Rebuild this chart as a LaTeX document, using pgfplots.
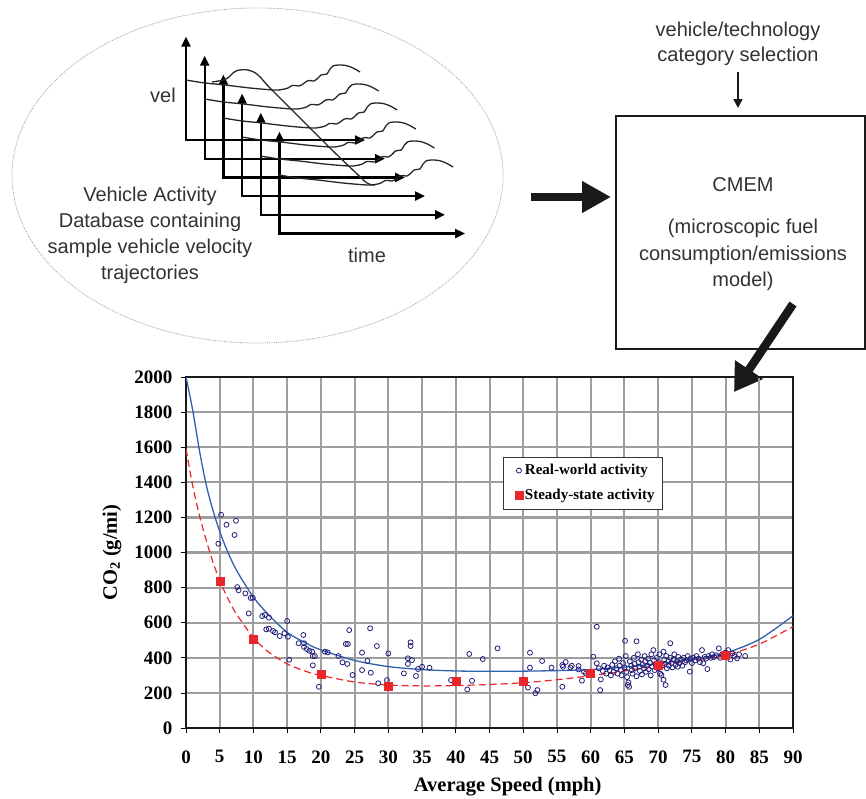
\documentclass[border=0pt]{standalone}
\usepackage{fontspec}
\setmainfont{Liberation Serif}
\newfontfamily\diagfont{Liberation Sans}
\usepackage{pgfplots}
\pgfplotsset{compat=1.18}
\usetikzlibrary{arrows.meta}

\definecolor{navy}{RGB}{35,31,122}
\definecolor{fitblue}{RGB}{48,96,176}
\definecolor{ssred}{RGB}{232,38,43}
\definecolor{gridgray}{RGB}{158,158,158}
\definecolor{diaggray}{RGB}{50,50,50}

% legend image: the mark only, with some room on its left
\pgfplotsset{marklegend/.style={legend image code/.code={%
  \draw[mark repeat=2,mark phase=2,##1] plot coordinates {(-9.7pt,0pt) (0pt,0pt) (3.3pt,0pt)};
  \pgfpathrectangle{\pgfpoint{-9.7pt}{-4pt}}{\pgfpoint{13pt}{8pt}}\pgfusepath{discard}}}}

\begin{document}
\begin{tikzpicture}
\useasboundingbox (0pt,0pt) rectangle (866pt,-798pt);

% ---------- flow diagram (pixel coordinates, y downwards)
\begin{scope}[x=1pt,y=-1pt,
  dtext/.style={font=\diagfont\fontsize{20}{26}\selectfont, text=diaggray, align=center, inner sep=0pt},
  vaxis/.style={line width=2.3pt, line join=miter, {Triangle[length=10pt,width=9pt]}-{Triangle[length=10pt,width=9pt]}},
  traj/.style={line width=1.3pt, draw=black!85}]
  \draw[gray!75, line width=0.8pt, densely dotted] (257.5,175.5) ellipse [x radius=245.5, y radius=167.5];

  \foreach \k in {0,...,5} {
    \pgfmathsetmacro\vx{186+18.7*\k}
    \pgfmathsetmacro\cy{140+18.7*\k}
    \pgfmathsetmacro\ty{36.7+19*\k}
    \pgfmathsetmacro\hx{365+20*\k}
    \draw[vaxis] (\vx,\ty) -- (\vx,\cy) -- (\hx,\cy);
  }
  \foreach \k in {0,...,5} {
    \begin{scope}[shift={(18.6*\k,19*\k)}]
      \draw[traj] plot[smooth, tension=0.55] coordinates {(186,80) (205,83) (225,85) (250,88) (274,90)
        (282,89.5) (288,88) (292,85.5) (295,85.5) (299,86) (303,84) (307,81) (310,80.5) (314,81)
        (318,78) (321,75) (324,74.5) (327,74) (330,69) (333,66) (338,65) (346,65.5) (353,68) (360,72)};
    \end{scope}
  }
  \draw[traj] plot[smooth, tension=0.6] coordinates {(212,82) (226,79) (236,71) (248,70) (258,75)
    (270,88) (300,118) (330,148) (355,172) (367,183) (375,185)};

  \node[dtext] at (163,95) {vel};
  \node[dtext] at (367,255) {time};
  \node[dtext] at (150,235) {Vehicle Activity\\Database containing\\sample vehicle velocity\\trajectories};

  % big arrow to model box
  \draw[line width=8.5pt, black!90, -{Triangle[length=29pt,width=30pt]}] (531,197) -- (611,197);
  % model box
  \draw[line width=1.5pt, black!90] (616,116) rectangle (865,349);
  \node[dtext] at (743,185) {CMEM};
  \node[dtext, font=\diagfont\fontsize{20}{26.5}\selectfont] at (743,255) {(microscopic fuel\\consumption/emissions\\model)};
  \node[dtext, font=\diagfont\fontsize{20}{25}\selectfont] at (738,44) {vehicle/technology\\category selection};
  \draw[line width=1.6pt, black!90, -{Triangle[length=9pt,width=9pt]}] (738,72) -- (738,108);
  % arrow into chart
  \draw[line width=8.5pt, black!90, -{Triangle[length=27pt,width=32pt]}] (793,304) -- (734,392);

  % horizontal grid of the chart, under the axis
  \foreach \k in {1,...,9} {
    \draw[gridgray, line width=2.2pt] (186,{728-35.1*\k}) -- (793,{728-35.1*\k});
  }
\end{scope}

% ---------- CO2 vs average speed chart
\begin{axis}[
  at={(186pt,-728pt)}, anchor=south west,
  scale only axis, width=607pt, height=351pt,
  xmin=0, xmax=90, ymin=0, ymax=2000,
  xtick={0,5,...,90}, ytick={0,200,...,2000},
  xmajorgrids=true, ymajorgrids=true,
  major grid style={draw=gridgray, line width=2pt},
  axis line style={line width=2.8pt, black!90},
  tick align=outside, xtick pos=bottom, ytick pos=left,
  major tick length=5pt, tick style={black, line width=0.8pt},
  /pgf/number format/assume math mode=true,
  /pgf/number format/1000 sep={},
  ticklabel style={font=\bfseries\fontsize{19}{19}\selectfont},
  xticklabel style={yshift=-14pt},
  yticklabel style={xshift=-5pt},
  xlabel={Average Speed (mph)},
  ylabel={CO\textsubscript{2} (g/mi)},
  label style={font=\bfseries\fontsize{20.5}{20.5}\selectfont},
  xlabel style={at={(axis description cs:0.53,-0.167)}, anchor=center},
  ylabel style={at={(axis description cs:-0.122,0.5)}, anchor=center},
  legend style={at={(axis description cs:0.522,0.773)}, anchor=north west,
    draw=black!80, line width=0.8pt, fill=white,
    font=\bfseries\fontsize{15}{15}\selectfont,
    inner xsep=6pt, inner ysep=5.5pt, row sep=9pt,
    cells={anchor=west}},
]

% fitted curve, real-world activity
\addplot[fitblue, line width=1.3pt, smooth, forget plot] coordinates {
  (0,2000) (1,1810) (2,1580) (3,1385) (4,1240) (5,1120) (6,1020) (7,935) (8,865)
  (10,745) (12,655) (15,545) (18,480) (20,445) (25,385) (30,350) (35,333) (40,325)
  (45,323) (50,324) (55,327) (60,333) (65,347) (70,368) (75,393) (80,428) (85,505) (90,640)
};
% fitted curve, steady-state activity
\addplot[ssred, line width=1.2pt, dash pattern=on 7pt off 4pt, smooth, forget plot] coordinates {
  (0,1590) (1,1380) (2,1210) (3,1070) (4,945) (5,840) (6,755) (7,680) (8,620)
  (10,515) (12,440) (15,365) (18,320) (20,300) (25,262) (30,245) (35,240) (40,242)
  (45,248) (50,258) (55,275) (60,298) (65,325) (70,357) (75,385) (80,415) (85,478) (90,578)
};

\addplot[only marks, mark=o, mark size=2.5pt, navy, mark options={line width=0.8pt}, marklegend]
  coordinates {
  (5.2,1215) (6.0,1158) (7.4,1181) (7.2,1100) (4.8,1050) (7.6,803) (7.8,785) (8.8,767)
  (9.6,741) (9.9,742) (9.3,653) (11.3,638) (11.7,644) (12.3,629) (15.0,610) (11.9,562)
  (12.3,566) (12.9,553) (13.2,545) (13.9,524) (14.6,540) (15.1,520) (17.4,530) (16.7,483)
  (17.5,483) (17.5,462) (17.9,450) (18.3,440) (18.8,410) (19.1,410) (18.7,435) (20.6,435)
  (21.0,431) (22.6,410) (23.2,374) (23.7,479) (15.3,389) (18.8,357) (19.7,235) (24.2,558)
  (27.3,568) (24.0,479) (26.1,429) (28.3,467) (30.0,425) (26.1,330) (24.7,302) (26.9,382)
  (27.4,315) (28.5,255) (29.8,273) (32.3,311) (32.9,397) (32.9,365) (33.3,488) (33.3,467)
  (33.5,387) (34.1,296) (34.4,336) (35.0,349) (36.1,343) (42.0,422) (41.7,220) (42.4,269)
  (44.0,393) (46.2,454) (23.9,365) (39.3,273) (51.0,429) (51.0,344) (50.7,230) (51.8,198)
  (52.1,216) (52.8,382) (54.2,344) (55.8,359) (55.9,349) (56.3,376) (57.2,355) (58.2,353)
  (58.2,334) (55.8,235) (58.7,270) (59.3,311) (60.9,577) (61.4,216) (57.0,345) (59.0,320)
  (60.4,406) (60.9,369) (61.5,277) (61.2,340) (61.8,325) (62.0,355) (62.3,310) (62.5,345)
  (62.8,330) (63.0,300) (63.2,360) (63.4,320) (63.6,380) (63.8,340) (64.0,310) (64.2,395)
  (64.3,355) (64.5,330) (64.6,300) (64.8,370) (65.0,345) (65.1,497) (65.2,410) (65.3,320)
  (65.4,290) (65.5,245) (65.6,260) (65.7,235) (65.8,380) (66.0,355) (66.1,330) (66.2,310)
  (66.4,400) (66.5,365) (66.6,340) (66.8,494) (66.8,295) (67.0,420) (67.1,375) (67.2,350)
  (67.3,325) (67.5,390) (67.6,305) (67.7,360) (67.9,340) (68.0,410) (68.1,380) (68.2,320)
  (68.4,355) (68.5,395) (68.6,335) (68.8,370) (68.9,300) (69.0,420) (69.1,350) (69.3,444)
  (69.4,385) (69.5,330) (69.6,360) (69.8,400) (70.0,340) (70.1,375) (70.2,420) (70.3,310)
  (70.5,302) (70.6,355) (70.8,435) (70.8,275) (70.9,390) (71.0,365) (71.1,245) (71.2,410)
  (71.3,340) (71.5,380) (71.6,355) (71.8,483) (71.8,400) (72.0,370) (72.1,345) (72.3,390)
  (72.4,420) (72.6,360) (72.8,380) (72.9,349) (73.0,405) (73.2,370) (73.4,390) (73.6,355)
  (73.8,400) (74.0,375) (74.2,385) (74.4,410) (74.7,321) (74.8,395) (75.0,370) (75.2,400)
  (75.5,385) (75.7,410) (76.0,395) (76.2,375) (76.5,444) (76.7,369) (76.9,405) (77.1,395)
  (77.3,336) (77.5,410) (77.8,400) (78.0,420) (78.3,405) (78.6,415) (79.0,454) (79.2,400)
  (79.5,420) (79.8,410) (80.0,430) (80.4,444) (80.7,391) (81.0,425) (81.3,410) (81.7,397)
  (82.0,420) (82.9,410)
};
\addlegendentry{Real-world activity}

\addplot[only marks, mark=square*, mark size=4pt, ssred, mark options={draw=ssred, fill=ssred}, marklegend]
  coordinates {
  (5,837) (10,505) (20,307) (30,241) (40,268) (50,264) (60,310) (70,359) (80,416)
};
\addlegendentry{Steady-state activity}

\end{axis}
\end{tikzpicture}
\end{document}
